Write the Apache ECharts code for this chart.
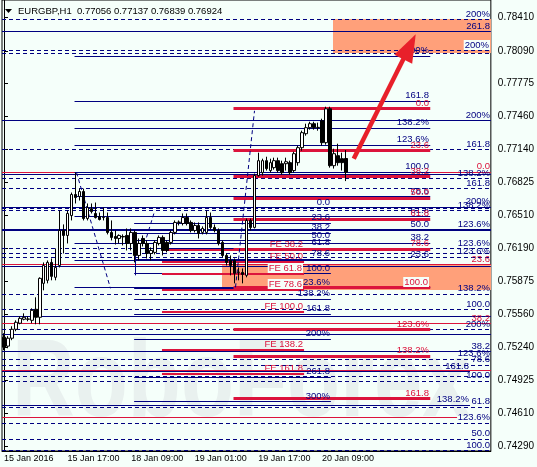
<!DOCTYPE html>
<html><head><meta charset="utf-8">
<script src="https://cdn.jsdelivr.net/npm/echarts@6/dist/echarts.min.js"></script>
<style>html,body{margin:0;padding:0;background:#F5FFFA;}#c{width:537px;height:467px;}</style>
</head><body><div id="c"></div>
<script>
// ---------------- data ----------------
const symbol = 'EURGBP,H1';
const timeLabels = ['15 Jan 2016', '15 Jan 17:00', '18 Jan 09:00', '19 Jan 01:00', '19 Jan 17:00', '20 Jan 09:00'];
const barsPerLabel = 16;
const totalSlots = 123;           // bar slots visible incl. empty right shift
const yTickLabels = [0.74290, 0.74610, 0.74925, 0.75240, 0.75560, 0.75875, 0.76190, 0.76510, 0.76825, 0.77140, 0.77460, 0.77775, 0.78090, 0.78410];

const opens = [0.75340,0.75254,0.75330,0.75416,0.75474,0.75512,0.75512,0.75502,0.75608,0.75531,
0.75857,0.75886,0.76058,0.75915,0.76029,0.76365,0.76317,0.76508,0.76710,0.76691,
0.76739,0.76480,0.76575,0.76528,0.76499,0.76489,0.76489,0.76346,0.76307,0.76288,
0.76307,0.76317,0.76240,0.76346,0.76125,0.76288,0.76240,0.76144,0.76154,0.76240,
0.76298,0.76250,0.76250,0.76346,0.76442,0.76432,0.76489,0.76442,0.76365,0.76413,
0.76346,0.76346,0.76489,0.76394,0.76365,0.76250,0.76125,0.76077,0.76077,0.75962,
0.75962,0.75934,0.76461,0.76394,0.76892,0.76920,0.77035,0.76940,0.76968,0.77035,
0.77006,0.77006,0.77016,0.76940,0.77016,0.77160,0.77294,0.77352,0.77390,0.77352,
0.77418,0.77208,0.77533,0.76987,0.77083,0.77054,0.77056];
const highs = [0.75378,0.75350,0.75445,0.75502,0.75540,0.75569,0.75540,0.75617,0.75723,0.75915,
0.76058,0.76077,0.76096,0.76192,0.76556,0.76423,0.76556,0.76729,0.76920,0.76767,
0.76767,0.76624,0.76624,0.76633,0.76537,0.76585,0.76537,0.76461,0.76365,0.76327,
0.76327,0.76384,0.76384,0.76365,0.76288,0.76317,0.76269,0.76202,0.76269,0.76317,
0.76317,0.76269,0.76365,0.76461,0.76461,0.76528,0.76528,0.76461,0.76442,0.76442,
0.76404,0.76556,0.76537,0.76423,0.76384,0.76269,0.76144,0.76125,0.76096,0.76010,
0.76000,0.76480,0.76480,0.76911,0.77112,0.77054,0.77073,0.77054,0.77064,0.77064,
0.77035,0.77064,0.77035,0.77121,0.77179,0.77323,0.77390,0.77409,0.77409,0.77400,
0.77438,0.77553,0.77553,0.77150,0.77198,0.77112,0.77137];
const lows = [0.75215,0.75234,0.75311,0.75397,0.75464,0.75502,0.75493,0.75474,0.75464,0.75464,
0.75790,0.75857,0.75886,0.75886,0.76010,0.76144,0.76240,0.76461,0.76624,0.76652,
0.76461,0.76461,0.76528,0.76480,0.76461,0.76461,0.76327,0.76269,0.76230,0.76240,
0.76221,0.76173,0.76173,0.76058,0.76077,0.76211,0.76096,0.76077,0.76135,0.76221,
0.76125,0.76154,0.76230,0.76327,0.76413,0.76413,0.76413,0.76346,0.76346,0.76288,
0.76327,0.76327,0.76375,0.76346,0.76221,0.76106,0.76029,0.75934,0.75857,0.75886,
0.75857,0.75915,0.76365,0.76384,0.76882,0.76892,0.76940,0.76920,0.76949,0.76920,
0.76901,0.76940,0.76901,0.76920,0.76987,0.77131,0.77275,0.77333,0.77333,0.77323,
0.77179,0.77189,0.76968,0.76959,0.76987,0.76940,0.76839];
const closes = [0.75244,0.75330,0.75416,0.75483,0.75521,0.75531,0.75515,0.75598,0.75531,0.75905,
0.76029,0.76058,0.75924,0.76010,0.76365,0.76317,0.76528,0.76710,0.76681,0.76739,
0.76480,0.76585,0.76546,0.76489,0.76470,0.76492,0.76346,0.76298,0.76288,0.76317,
0.76303,0.76240,0.76346,0.76125,0.76240,0.76240,0.76144,0.76173,0.76250,0.76298,
0.76173,0.76173,0.76346,0.76442,0.76445,0.76489,0.76432,0.76365,0.76413,0.76336,
0.76384,0.76489,0.76394,0.76365,0.76240,0.76125,0.76058,0.76029,0.75953,0.75965,
0.75943,0.76461,0.76394,0.76892,0.77035,0.77035,0.76959,0.77016,0.77035,0.76940,
0.76920,0.77025,0.76920,0.77102,0.77160,0.77304,0.77352,0.77390,0.77352,0.77355,
0.77208,0.77533,0.76987,0.77102,0.77016,0.77016,0.76924];

// Levels of Fibonacci objects anchored off-screen, spanning the whole chart: [price, style, label, endBar]
const edgeLevels = [
 [0.78386,'d','200%'],[0.78271,'n','261.8'],[0.78089,'d','200%'],[0.78067,'d',''],
 [0.77418,'n','200%'],[0.77141,'d','161.8'],[0.76923,'r','0.0'],[0.76901,'n',''],
 [0.76860,'d','138.2%'],[0.76764,'d','161.8'],[0.76588,'n','200%'],[0.76572,'d',''],
 [0.76556,'d','138.2%'],[0.76371,'N','123.6%'],[0.76189,'d','123.6%'],[0.76141,'d',''],
 [0.76109,'d','123.6%'],[0.76036,'r','23.6'],[0.76023,'n',''],[0.75752,'d','138.2%'],
 [0.75605,'d','100.0'],[0.75534,'n',''],[0.75471,'r','38.2'],[0.75411,'d','200%'],
 [0.75368,'n',''],[0.75199,'n','38.2'],[0.75126,'d','123.6%'],[0.75071,'d','78.6'],
 [0.75023,'r',''],[0.75007,'n','161.8',117.25],[0.74966,'d',''],[0.74918,'d','100.0'],
 [0.74688,'n','138.2%',117.25],[0.74666,'d','61.8'],[0.74570,'r','',114],[0.74513,'d','123.6%'],
 [0.74360,'d','50.0'],[0.74250,'d','100.0']
];
const boxedEdge = ['0.78089'];

// Fibonacci B (navy) anchored at bars 17.75 .. 107.25
const fibBSpan = [17.75, 107.25];
const fibBPrices = [0.75819,0.76080,0.76240,0.76371,0.76499,0.76687,0.76923,0.77184,0.77345,0.77605,0.78040];
const fibBLabels = ['0.0','23.6','38.2','50.0','61.8','78.6','100.0','123.6%','138.2%','161.8','200%'];

// Fibonacci A (navy) anchored at bars 32.75 .. 82.25
const fibASpan = [32.75, 82.25];
const fibAPrices = [0.76585,0.76432,0.76336,0.76264,0.76192,0.76087,0.75948,0.75809,0.75704,0.75560,0.75320,0.74956,0.74720];
const fibALabels = ['0.0','23.6','38.2','50.0','61.8','78.6','100.0','123.6%','138.2%','161.8','200%','261.8','300%'];

// Fibonacci expansion (red, thin) anchored at bars 39.75 .. 75.5
const fibFESpan = [39.75, 75.5];
const fibFEPrices = [0.76179,0.76065,0.75951,0.75789,0.75582,0.75213,0.74985];
const fibFELabels = ['FE 38.2','FE 50.0','FE 61.8','FE 78.6','FE 100.0','FE 138.2','FE 161.8'];
const fibFEBoxed = ['FE 61.8','FE 78.6'];

// Fibonacci red (thick) anchored at bars 57.75 .. 107.25
const fibRSpan = [57.75, 107.25];
const fibRPrices = [0.77536,0.77130,0.76879,0.76676,0.76473,0.76184,0.75816,0.75409,0.75158,0.74750];
const fibRLabels = ['0.0','23.6','38.2','50.0','61.8','78.6','100.0','123.6%','138.2%','161.8'];
const fibRBoxed = ['100.0'];

// Fibonacci base lines (dashed) and a small vertical marker: [bar1, price1, bar2, price2, style]
const fibLinks = [
 [18, 0.76921, 26.75, 0.75809, 'd'],
 [35.75, 0.76298, 37.75, 0.76547, 'd'],
 [58, 0.75819, 63, 0.77514, 'd'],
 [32.9, 0.76125, 32.9, 0.75934, 'n']
];
// Target zones: [bar1, bar2, priceTop, priceBottom]
const zones = [[82.75, 122.5, 0.78396, 0.78070], [54.75, 122.5, 0.76034, 0.75790]];
// Forecast arrow: [bar1, price1, bar2, price2]
const arrows = [[88, 0.77054, 103.6, 0.78249]];

// ---------------- styling ----------------
const NAVY = '#000080', RED = '#DC143C', ZONE = '#FFA07A', BG = '#F5FFFA', ARROW = '#E8202A';
const FONT = '"Liberation Sans", Arial, sans-serif';
const kindKeys = ['n','N','d','r','f','R'];
const KIND = {
  n:{c:NAVY,w:1,dash:null}, N:{c:NAVY,w:2,dash:null}, d:{c:NAVY,w:1,dash:[4,3]},
  r:{c:RED,w:1,dash:null}, f:{c:RED,w:2,dash:null}, R:{c:RED,w:3,dash:null}
};
const firstSlot = -0.5, lastSlot = totalSlots - 0.5;

const segData = [], labelRows = [];
function addLevel(x1, x2, p, kind, text, boxed) {
  segData.push([x1, x2, p, kindKeys.indexOf(kind)]);
  if (text) labelRows.push({x: x2, p, text, color: KIND[kind].c, bg: !!boxed});
}
edgeLevels.forEach(r => addLevel(firstSlot, r[3] !== undefined ? r[3] : lastSlot, r[0], r[1], r[2], boxedEdge.includes(r[0].toFixed(5))));
fibBPrices.forEach((p,i) => addLevel(fibBSpan[0], fibBSpan[1], p, 'n', fibBLabels[i]));
fibAPrices.forEach((p,i) => addLevel(fibASpan[0], fibASpan[1], p, 'n', fibALabels[i]));
fibFEPrices.forEach((p,i) => addLevel(fibFESpan[0], fibFESpan[1], p, 'f', fibFELabels[i], fibFEBoxed.includes(fibFELabels[i])));
fibRPrices.forEach((p,i) => addLevel(fibRSpan[0], fibRSpan[1], p, 'R', fibRLabels[i], fibRBoxed.includes(fibRLabels[i])));

const candleData = opens.map((o,i) => [o, closes[i], lows[i], highs[i]]);
const categories = Array.from({length: totalSlots}, (_, i) => String(i));
const last = opens.length - 1;
const f5 = v => v.toFixed(5);
const headerText = symbol + '  ' + [opens[last], highs[last], lows[last], closes[last]].map(f5).join(' ');
const isLabelled = i => i % barsPerLabel === 0 && i / barsPerLabel < timeLabels.length;

function crisp(y, w) { return w % 2 ? Math.round(y - 0.5) + 0.5 : Math.round(y); }

const chart = echarts.init(document.getElementById('c'), null, {renderer: 'canvas'});
chart.setOption({
  backgroundColor: BG,
  animation: false,
  grid: {left: 2, right: 43, top: -1, bottom: 16, show: true, borderColor: '#000', borderWidth: 1},
  xAxis: [{
    type: 'category', data: categories, boundaryGap: true,
    axisLine: {lineStyle: {color: '#000'}},
    axisTick: {alignWithLabel: true, interval: (i) => isLabelled(i), length: 4, lineStyle: {color: '#000'}},
    axisLabel: {interval: (i) => isLabelled(i), formatter: (v, i) => timeLabels[i / barsPerLabel] || '',
      align: 'left', margin: 3, fontSize: 9, fontFamily: FONT, color: '#000'},
    splitLine: {show: false}
  }, {
    type: 'value', min: firstSlot, max: lastSlot, show: false
  }],
  yAxis: [{
    type: 'value', position: 'right', min: 0.74247, max: 0.78578, scale: true,
    axisLine: {show: true, lineStyle: {color: '#000'}},
    axisTick: {show: true, length: 4, customValues: yTickLabels, lineStyle: {color: '#000'}},
    axisLabel: {customValues: yTickLabels, formatter: v => v.toFixed(5), margin: 7, fontSize: 10, fontFamily: FONT, color: '#000'},
    splitLine: {show: false}
  }],
  graphic: [
    {type: 'text', x: 12, y: 386, z: 0, scaleX: 0.79, silent: true,
     style: {text: 'RoboForex', font: 'bold 110px ' + FONT, fill: '#E9F1EF', verticalAlign: 'middle', align: 'left'}},
    {type: 'polygon', z: 100, shape: {points: [[5, 9], [12, 9], [8.5, 13]]}, style: {fill: '#000'}},
    {type: 'text', x: 18, y: 11, z: 100, style: {text: headerText, font: '9.5px ' + FONT, fill: '#000', verticalAlign: 'middle'}}
  ],
  series: [
    { // target zones
      type: 'custom', xAxisIndex: 1, z: 1, silent: true, clip: true,
      data: zones, encode: {x: [0, 1], y: [2, 3]},
      renderItem: (params, api) => {
        const a = api.coord([api.value(0), api.value(2)]), b = api.coord([api.value(1), api.value(3)]);
        return {type: 'rect', shape: {x: Math.round(a[0]), y: Math.round(a[1]), width: Math.round(b[0]) - Math.round(a[0]), height: Math.round(b[1]) - Math.round(a[1])}, style: {fill: ZONE}};
      }
    },
    { // horizontal levels
      type: 'custom', xAxisIndex: 1, z: 2, silent: true, clip: true,
      data: segData, encode: {x: [0, 1], y: 2},
      renderItem: (params, api) => {
        const k = KIND[kindKeys[api.value(3)]];
        const a = api.coord([api.value(0), api.value(2)]), b = api.coord([api.value(1), api.value(2)]);
        const y = crisp(a[1], k.w);
        return {type: 'line', shape: {x1: a[0], y1: y, x2: b[0], y2: y}, style: {stroke: k.c, lineWidth: k.w, lineDash: k.dash}};
      }
    },
    { // fibonacci base lines
      type: 'custom', xAxisIndex: 1, z: 2, silent: true,
      data: fibLinks.map(r => [r[0], r[1], r[2], r[3], kindKeys.indexOf(r[4])]), encode: {x: [0, 2], y: [1, 3]},
      renderItem: (params, api) => {
        const k = KIND[kindKeys[api.value(4)]];
        const a = api.coord([api.value(0), api.value(1)]), b = api.coord([api.value(2), api.value(3)]);
        return {type: 'line', shape: {x1: Math.round(a[0]) + 0.5, y1: a[1], x2: Math.round(b[0]) + 0.5, y2: b[1]}, style: {stroke: k.c, lineWidth: 1, lineDash: k.dash}};
      }
    },
    { // candles
      type: 'candlestick', xAxisIndex: 0, yAxisIndex: 0, z: 3, barWidth: 3, silent: true,
      data: candleData,
      itemStyle: {color: '#FFFFFF', color0: '#000000', borderColor: '#000000', borderColor0: '#000000', borderWidth: 1},
      markLine: {
        silent: true, symbol: 'none', animation: false,
        lineStyle: {opacity: 0},
        label: {show: true, position: 'end', distance: 2, formatter: () => f5(closes[last]),
          backgroundColor: '#000', color: '#fff', padding: [2, 3, 1, 3], fontSize: 10, fontFamily: FONT},
        data: [{yAxis: closes[last]}]
      }
    },
    { // level labels
      type: 'custom', xAxisIndex: 1, z: 4, silent: true, clip: false,
      data: labelRows.map(l => [l.x, l.p]), encode: {x: 0, y: 1},
      renderItem: (params, api) => {
        const l = labelRows[params.dataIndex];
        const a = api.coord([api.value(0), api.value(1)]);
        return {type: 'text', x: Math.round(a[0]) - 1, y: Math.round(a[1]) - 1,
          style: {text: l.text, fill: l.color, font: '9.5px ' + FONT, align: 'right', verticalAlign: 'bottom',
            backgroundColor: l.bg ? BG : null, padding: l.bg ? [0, 1, 0, 1] : 0}};
      }
    },
    { // forecast arrow
      type: 'custom', xAxisIndex: 1, z: 5, silent: true, clip: false,
      data: arrows, encode: {x: [0, 2], y: [1, 3]},
      renderItem: (params, api) => {
        const a = api.coord([api.value(0), api.value(1)]), b = api.coord([api.value(2), api.value(3)]);
        const dx = b[0] - a[0], dy = b[1] - a[1], len = Math.hypot(dx, dy);
        const ux = dx / len, uy = dy / len, px = -uy, py = ux;
        const hl = 28, hw = 10;
        const bx = b[0] - ux * hl, by = b[1] - uy * hl;
        return {type: 'group', children: [
          {type: 'line', shape: {x1: a[0], y1: a[1], x2: bx + ux * 2, y2: by + uy * 2}, style: {stroke: ARROW, lineWidth: 4.5}},
          {type: 'polygon', shape: {points: [[b[0], b[1]], [bx + px * hw, by + py * hw], [bx - px * hw, by - py * hw]]}, style: {fill: ARROW}}
        ]};
      }
    }
  ]
});
</script></body></html>
